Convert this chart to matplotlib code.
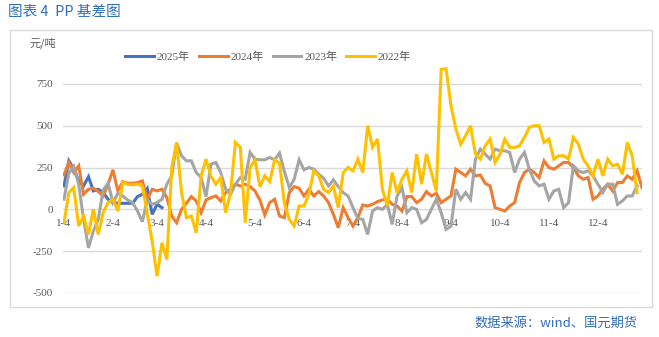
import numpy as np
import matplotlib.pyplot as plt
from matplotlib.patches import Rectangle

plt.rcParams['font.family'] = ['Liberation Serif', 'Noto Sans CJK SC']

# category positions of the month labels (trading-day index, 2-day steps)
tick_pos = [0, 10, 19, 29, 39, 49, 59, 69, 79, 89, 99, 109]
tick_labels = ['1-4', '2-4', '3-4', '4-4', '5-4', '6-4', '7-4', '8-4', '9-4', '10-4', '11-4', '12-4']

y2025 = [140, 290, 240, 170, 140, 195, 110, 120, 100, 60, 40, 36, 36, 36, 36, 76, 90, 125, -30, 30, 10]

y2024 = [206, 280, 220, 260, 90, 120, 126, 106, 80, 150,
         236, 110, 165, 156, 156, 160, 170, 60, 120, 110,
         120, 70, -40, -80, 0, 36, 76, 50, -20, 56,
         70, 80, 50, 100, 120, 150, 140, 150, 136, 110,
         56, -34, 40, 60, -40, -50, 100, 136, 126, 80,
         120, 80, 106, 80, 40, -30, -110, 10, -50, -100,
         -50, 26, 20, 30, 46, 56, 60, 30, 20, -10,
         76, 76, 40, 60, 106, 80, 96, 40, 60, 80,
         240, 220, 200, 240, 200, 205, 155, 140, 10, 0,
         -10, 20, 40, 160, 220, 240, 220, 190, 290, 250,
         240, 260, 280, 280, 250, 200, 180, 190, 60, 80,
         120, 150, 110, 160, 160, 200, 180, 230, 130]

y2023 = [60, 216, 256, 150, -60, -230, -130, -60, 116, 156,
         40, 96, 80, 56, 40, -10, -74, 56, 30, 40,
         60, 150, 200, 396, 320, 290, 290, 220, 190, 76,
         270, 280, 220, 120, 90, 150, 190, 180, 340, 300,
         296, 296, 310, 296, 336, 226, 130, 180, 296, 236,
         250, 240, 210, 186, 140, 176, 136, 100, 80, 10,
         -55, -60, -150, -10, 10, 0, 30, -90, 80, 130,
         -20, 10, 0, -80, -60, 0, 60, -20, -120, -100,
         120, 60, 100, 60, 300, 360, 330, 300, 360, 350,
         350, 340, 220, 300, 340, 240, 170, 140, 150, 60,
         110, 120, 10, 40, 260, 230, 220, 230, 200, 150,
         100, 150, 150, 30, 50, 80, 80, 140]

y2022 = [-80, 100, 130, -100, -40, -150, 0, -150, -20, 40,
         60, -10, 160, 150, 146, 150, 140, -24, -190, -400,
         -200, -300, 250, 400, 100, -50, -40, -140, 200, 300,
         200, 150, 190, -20, 100, 400, 370, -80, 250, 296,
         136, 200, 166, 296, 276, 36, -60, -100, 20, 20,
         90, 230, 200, 120, 100, 140, 10, 220, 250, 230,
         300, 220, 500, 370, 420, 120, 20, 220, 100, 180,
         230, 100, 330, 150, 330, 220, 110, 836, 840, 620,
         480, 390, 440, 500, 330, 300, 380, 420, 280, 330,
         420, 370, 370, 380, 430, 490, 500, 500, 400, 420,
         300, 320, 320, 300, 430, 390, 300, 260, 200, 300,
         200, 300, 260, 270, 210, 400, 320, 100]

series = [('2025年', y2025, '#4472C4'),
          ('2024年', y2024, '#ED7D31'),
          ('2023年', y2023, '#A5A5A5'),
          ('2022年', y2022, '#FFC000')]

fig = plt.figure(figsize=(6.59, 3.37), dpi=100)
fig.patches.append(Rectangle((10 / 659, 30 / 337), 642 / 659, 277 / 337,
                             transform=fig.transFigure, fill=False,
                             edgecolor='#D9D9D9', linewidth=1))

ax = fig.add_axes([63 / 659, 44 / 337, 579 / 659, 251 / 337])
for name, vals, col in series:
    ax.plot(np.arange(len(vals)), vals, color=col, lw=2.2, label=name,
            solid_joinstyle='miter')

ax.set_xlim(-0.2, 118)
ax.set_ylim(-500, 1000)
ax.set_yticks([-500, -250, 0, 250, 500, 750])
ax.set_yticklabels(['-500', '-250', '0', '250', '500', '750'])
ax.grid(axis='y', color='#D9D9D9', lw=1)
ax.set_axisbelow(True)
for s in ax.spines.values():
    s.set_visible(False)
ax.spines['bottom'].set_position(('data', 0))
ax.set_xticks(tick_pos)
ax.set_xticklabels(tick_labels)
ax.tick_params(axis='x', length=0, pad=7, labelsize=8, labelcolor='#595959')
ax.tick_params(axis='y', length=0, pad=7, labelsize=8, labelcolor='#595959')

fig.text(8 / 659, 1 - 12 / 337, '图表 4  PP 基差图', color='#2F6EBA', fontsize=10.5,
         family=['Noto Sans CJK SC'], va='center', ha='left')
fig.text(30 / 659, 1 - 43 / 337, '元/吨', color='#595959', fontsize=8,
         family=['Noto Sans CJK SC'], va='center', ha='left')
fig.text(638 / 659, 1 - 323 / 337, '数据来源：wind、国元期货', color='#2F6EBA', fontsize=9.5,
         family=['Noto Sans CJK SC'], va='center', ha='right')

fig.legend(loc='center', bbox_to_anchor=(268 / 659, 1 - 57 / 337), ncol=4,
           frameon=False, fontsize=8, handlelength=2.6, handletextpad=0.25,
           columnspacing=0.8, labelcolor='#595959')

fig.savefig('out.png', dpi=100)
